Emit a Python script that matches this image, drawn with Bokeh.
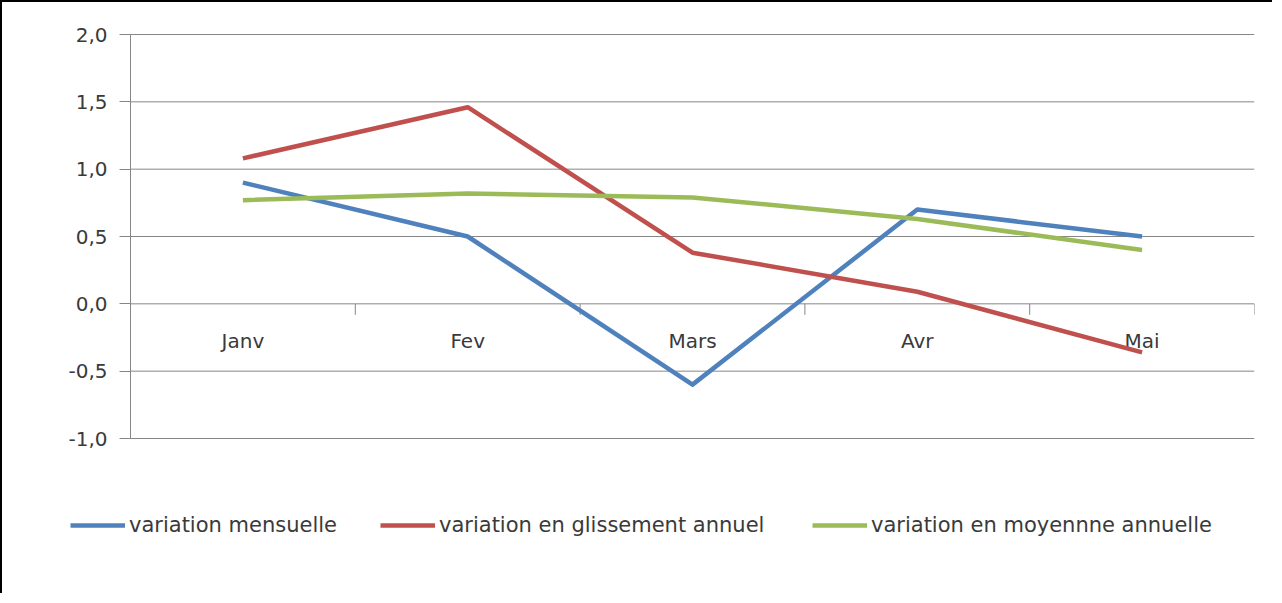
from bokeh.plotting import figure
from bokeh.models import (ColumnDataSource, Range1d, FixedTicker, LinearAxis,
                          CustomJSTickFormatter, Legend, LegendItem)
from bokeh.core.properties import value
from bokeh.embed import file_html
from bokeh.resources import INLINE

months = ["Janv", "Fev", "Mars", "Avr", "Mai"]
mensuelle = [0.9, 0.5, -0.6, 0.7, 0.5]
glissement = [1.08, 1.46, 0.38, 0.09, -0.36]
moyenne = [0.77, 0.82, 0.79, 0.63, 0.40]
y_ticks = [-1.0, -0.5, 0.0, 0.5, 1.0, 1.5, 2.0]
labels = ["variation mensuelle", "variation en glissement annuel",
          "variation en moyennne annuelle"]
colors = ["#4F81BD", "#C0504D", "#9BBB59"]

FONT = "DejaVu Sans"
TXT = "#3a3a3a"
GRID = "#868686"

# layout (canvas pixels)
W, H = 1272, 593
AX_LEFT, AX_RIGHT = 128, 1252      # plot area left/right
AX_TOP, AX_BOTTOM = 32, 436        # plot area top/bottom
n = len(months)
ymin, ymax = min(y_ticks), max(y_ticks)
ppu_y = (AX_BOTTOM - AX_TOP) / (ymax - ymin)
ppu_x = (AX_RIGHT - AX_LEFT) / n

x_pos = [i + 0.5 for i in range(n)]
bounds = [i + 1.0 for i in range(n)]

src = ColumnDataSource(dict(m=months, x=x_pos, a=mensuelle, b=glissement,
                            c=moyenne, zero=[0.0] * n))
grid_src = ColumnDataSource(dict(y=y_ticks, x0=[0.0] * len(y_ticks),
                                 x1=[float(n)] * len(y_ticks)))
tick_src = ColumnDataSource(dict(x=bounds, y=[0.0] * n))

p = figure(x_range=Range1d(-AX_LEFT / ppu_x, n),
           y_range=Range1d(ymax - (H - AX_TOP) / ppu_y, ymax + AX_TOP / ppu_y),
           width=W, height=H, output_backend="svg", toolbar_location=None,
           min_border_left=0, min_border_right=W - AX_RIGHT, min_border_top=0,
           min_border_bottom=0, x_axis_location=None, y_axis_location=None,
           styles={"border-left": "2px solid #000", "border-top": "2px solid #000"})
p.outline_line_color = None
p.grid.visible = False

# horizontal grid lines over the category span
p.segment(x0="x0", x1="x1", y0="y", y1="y", source=grid_src,
          line_color=GRID, line_width=1)

ya = LinearAxis(fixed_location=0.0, bounds=(ymin, ymax))
ya.ticker = FixedTicker(ticks=y_ticks)
ya.formatter = CustomJSTickFormatter(code="return tick.toFixed(1).replace('.', ',');")
ya.axis_line_color = GRID
ya.major_tick_line_color = GRID
ya.major_tick_out = 11
ya.major_tick_in = 0
ya.minor_tick_line_color = None
ya.major_label_standoff = 12
ya.major_label_text_font = FONT
ya.major_label_text_font_size = "20px"
ya.major_label_text_color = TXT
p.add_layout(ya, "left")

# category axis drawn on the zero line
p.ray(x="x", y="y", source=tick_src, length=11, length_units="screen",
      angle=-1.5707963, line_color=GRID, line_width=1)
p.text(x="x", y="zero", text="m", source=src, y_offset=37,
       text_align="center", text_baseline="middle",
       text_font=value(FONT), text_font_size="20px", text_color=TXT)

r1 = p.line("x", "a", source=src, line_color=colors[0], line_width=4.5, line_join="round")
r2 = p.line("x", "b", source=src, line_color=colors[1], line_width=4.5, line_join="round")
r3 = p.line("x", "c", source=src, line_color=colors[2], line_width=4.5, line_join="round")

for r, lab, xloc in zip([r1, r2, r3], labels, [68, 378, 810]):
    leg = Legend(items=[LegendItem(label=lab, renderers=[r])], location=(xloc, 58),
                 orientation="horizontal", glyph_width=55, glyph_height=20,
                 label_standoff=4, padding=0, margin=0, spacing=0,
                 border_line_color=None, background_fill_alpha=0,
                 label_text_font=FONT, label_text_font_size="21px",
                 label_text_color=TXT)
    p.add_layout(leg, "center")

open("out.html", "w").write(file_html(p, INLINE))
